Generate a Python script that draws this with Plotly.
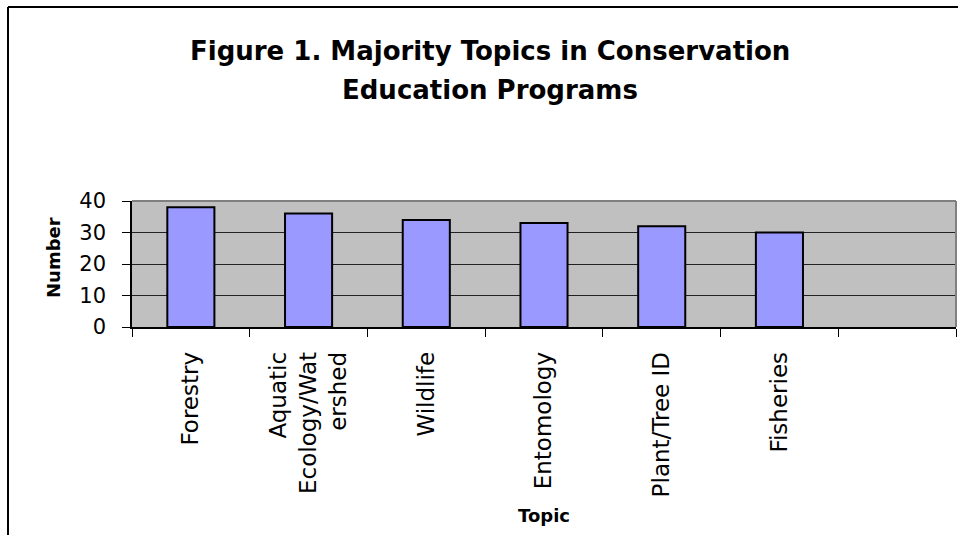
import plotly.graph_objects as go

# ---- data ----
categories = ["Forestry", "Aquatic<br>Ecology/Wat<br>ershed", "Wildlife", "Entomology",
              "Plant/Tree ID", "Fisheries", " "]
values = [38, 36, 34, 33, 32, 30, None]
y_ticks = [0, 10, 20, 30, 40]

title_line1 = "Figure 1. Majority Topics in Conservation"
title_line2 = "Education Programs"
x_title = "Topic"
y_title = "Number"

# ---- layout geometry (pixels) ----
W, H = 958, 535
L, R, T, B = 132, 2, 201, 208
PW, PH = W - L - R, H - T - B

def px(x):
    return (x - L) / PW

def py(y):
    return (H - B - y) / PH

FONT = "DejaVu Sans"

fig = go.Figure()
fig.add_trace(go.Bar(
    x=categories, y=values,
    marker=dict(color="#9999FF", line=dict(color="black", width=2)),
    showlegend=False,
))

fig.update_layout(
    width=W, height=H,
    margin=dict(l=L, r=R, t=T, b=B),
    paper_bgcolor="white",
    plot_bgcolor="#C0C0C0",
    bargap=0.6,
    font=dict(family=FONT, color="black"),
    xaxis=dict(
        type="category",
        categoryorder="array", categoryarray=categories,
        range=[-0.5, len(categories) - 0.5],
        tickson="boundaries",
        ticks="outside", ticklen=8, tickcolor="black", tickwidth=1,
        showline=True, linecolor="black", linewidth=1.5,
        showgrid=False,
        tickangle=-90,
        tickfont=dict(family=FONT, size=23, color="black"),
        ticklabelstandoff=14,
    ),
    yaxis=dict(
        range=[0, 40],
        tickvals=y_ticks,
        ticks="outside", ticklen=8, tickcolor="black", tickwidth=1,
        showline=True, linecolor="black", linewidth=1.5,
        showgrid=True, gridcolor="#222222", gridwidth=1,
        zeroline=False,
        tickfont=dict(family=FONT, size=21, color="black"),
        ticklabelstandoff=12,
    ),
    shapes=[
        # plot area border (top and right, gray)
        dict(type="line", xref="paper", yref="paper", x0=0, x1=1, y0=1, y1=1,
             line=dict(color="#808080", width=2), layer="above"),
        dict(type="line", xref="paper", yref="paper", x0=1, x1=1, y0=0, y1=1,
             line=dict(color="#808080", width=2), layer="above"),
        # outer chart frame
        dict(type="line", xref="paper", yref="paper", x0=px(8), x1=px(W + 5),
             y0=py(7), y1=py(7), line=dict(color="black", width=2)),
        dict(type="line", xref="paper", yref="paper", x0=px(8), x1=px(8),
             y0=py(7), y1=py(H + 5), line=dict(color="black", width=2)),
    ],
    annotations=[
        dict(text="<b>" + title_line1 + "</b>", xref="paper", yref="paper",
             x=px(490), y=py(51), xanchor="center", yanchor="middle",
             showarrow=False, font=dict(family=FONT, size=26, color="black")),
        dict(text="<b>" + title_line2 + "</b>", xref="paper", yref="paper",
             x=px(490), y=py(90), xanchor="center", yanchor="middle",
             showarrow=False, font=dict(family=FONT, size=26, color="black")),
        dict(text="<b>" + y_title + "</b>", xref="paper", yref="paper",
             x=px(53), y=py(258), xanchor="center", yanchor="middle", textangle=-90,
             showarrow=False, font=dict(family=FONT, size=18, color="black")),
        dict(text="<b>" + x_title + "</b>", xref="paper", yref="paper",
             x=px(544), y=py(515), xanchor="center", yanchor="middle",
             showarrow=False, font=dict(family=FONT, size=18, color="black")),
    ],
)

fig.write_html("out.html", config={"displayModeBar": False},
               post_script="document.body.style.margin='0px';")
